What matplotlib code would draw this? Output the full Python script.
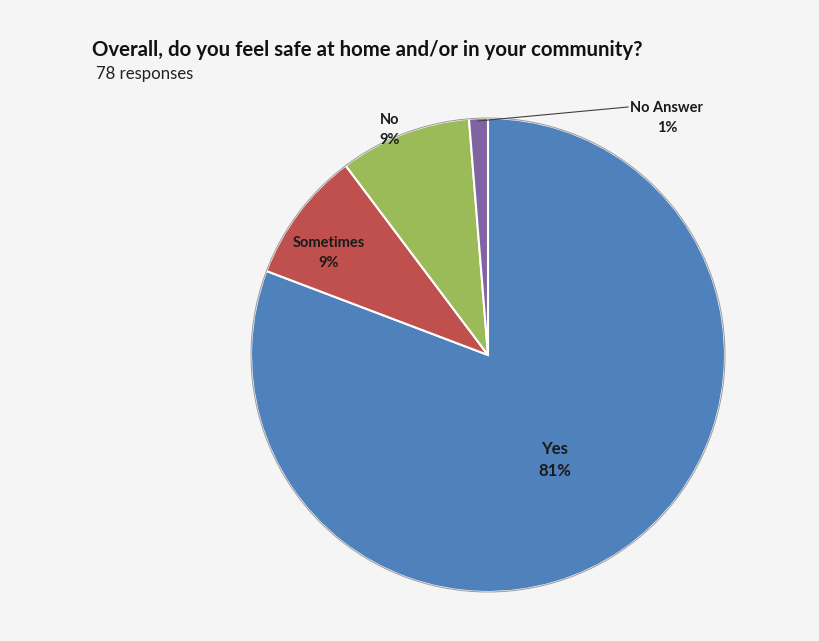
import matplotlib.pyplot as plt
import matplotlib.patches as mpatches

# survey answers, 78 responses
answers = ['Yes', 'Sometimes', 'No', 'No Answer']
counts = [63, 7, 7, 1]
pcts = ['81%', '9%', '9%', '1%']
colors = ['#4f81bd', '#c0504d', '#9bbb59', '#8064a2']

plt.rcParams['font.family'] = ['Lato', 'DejaVu Sans']

fig = plt.figure(figsize=(8.2, 6.41), dpi=100)
fig.patch.set_facecolor('#f5f5f5')
ax = fig.add_axes([0, 0, 1, 1])

cx, cy, r = 488, 641 - 355, 237
wedges, _ = ax.pie(counts, colors=colors, startangle=90, counterclock=False,
                   center=(cx, cy), radius=r, frame=True,
                   wedgeprops=dict(edgecolor='white', linewidth=1.5))
ax.set_xlim(0, 820)
ax.set_ylim(0, 641)
ax.set_aspect('equal')
ax.axis('off')
ax.add_patch(mpatches.Circle((cx, cy), r, fill=False, edgecolor='#a0a0a0', lw=0.8))

# labels
ax.text(555, 641 - 460, answers[0] + '\n' + pcts[0], ha='center', va='center',
        fontsize=12, fontweight='bold', color='#1a1a1a', linespacing=1.5)
small = dict(ha='center', va='center', fontsize=10.5, fontweight='bold',
             color='#1a1a1a', linespacing=1.55)
ax.text(329, 641 - 253, answers[1] + '\n' + pcts[1], **small)
ax.text(390, 641 - 130, answers[2] + '\n' + pcts[2], **small)
ax.text(667, 641 - 118, answers[3] + '\n' + pcts[3], **small)
ax.plot([478, 628], [641 - 121, 641 - 107], color='#404040', lw=0.8)

fig.text(92 / 820, 1 - 50 / 641, 'Overall, do you feel safe at home and/or in your community?',
         fontsize=14.7, fontweight='bold', color='#111111', va='center', ha='left')
fig.text(96 / 820, 1 - 74 / 641, '78 responses', fontsize=12.1, color='#222222',
         va='center', ha='left')

fig.savefig('out.png', dpi=100, facecolor=fig.get_facecolor())
